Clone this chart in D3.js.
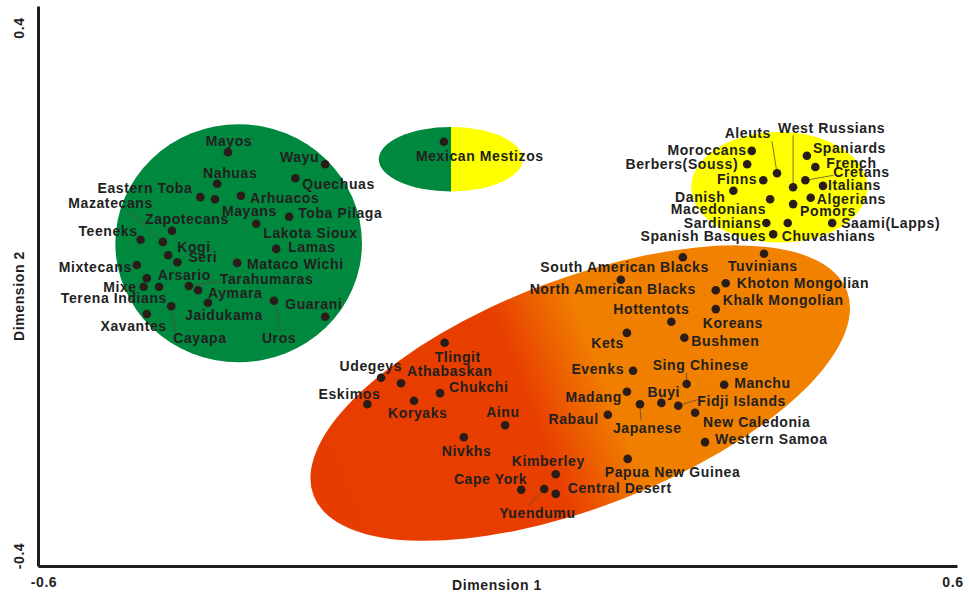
<!DOCTYPE html>
<html>
<head>
<meta charset="utf-8">
<script src="https://cdn.jsdelivr.net/npm/d3@7"></script>
<style>
  body { margin: 0; background: #fff; }
  svg { display: block; }
  .lbl { font-family: 'Liberation Sans', Arial, sans-serif; font-weight: bold; font-size: 14px; letter-spacing: 0.6px; fill: #231f1f; }
</style>
</head>
<body>
<svg width="969" height="595"></svg>
<script>
// populations: [name, dimension 1, dimension 2]
const amerindians = [
  ['Mayos', -0.352, 0.191], ['Wayu', -0.225, 0.174], ['Nahuas', -0.366, 0.146],
  ['Quechuas', -0.264, 0.154], ['Eastern Toba', -0.388, 0.127], ['Mayans', -0.369, 0.124],
  ['Arhuacos', -0.335, 0.129], ['Mazatecans', -0.437, 0.063], ['Zapotecans', -0.425, 0.079],
  ['Toba Pilaga', -0.272, 0.099], ['Lakota Sioux', -0.315, 0.089], ['Teeneks', -0.466, 0.066],
  ['Kogi', -0.430, 0.044], ['Seri', -0.418, 0.034], ['Lamas', -0.289, 0.053],
  ['Mixtecans', -0.471, 0.030], ['Mataco Wichi', -0.340, 0.033], ['Arsario', -0.458, 0.011],
  ['Tarahumaras', -0.403, 0.000], ['Mixe', -0.462, -0.001], ['Terena Indians', -0.442, -0.001],
  ['Aymara', -0.391, -0.006], ['Jaidukama', -0.378, -0.024], ['Cayapa', -0.426, -0.029],
  ['Uros', -0.292, -0.021], ['Guarani', -0.225, -0.044], ['Xavantes', -0.458, -0.040]
];
const mestizos = [['Mexican Mestizos', -0.070, 0.206]];
const europeans = [
  ['Aleuts', 0.365, 0.161], ['West Russians', 0.386, 0.141], ['Moroccans', 0.332, 0.193],
  ['Spaniards', 0.404, 0.186], ['Berbers(Souss)', 0.326, 0.174], ['French', 0.415, 0.170],
  ['Cretans', 0.402, 0.151], ['Finns', 0.347, 0.151], ['Italians', 0.425, 0.143],
  ['Danish', 0.308, 0.136], ['Algerians', 0.409, 0.126], ['Macedonians', 0.356, 0.124],
  ['Pomors', 0.386, 0.117], ['Sardinians', 0.351, 0.090], ['Saami(Lapps)', 0.437, 0.090],
  ['Chuvashians', 0.379, 0.090], ['Spanish Basques', 0.360, 0.074]
];
const others = [
  ['South American Blacks', 0.242, 0.041], ['Tuvinians', 0.348, 0.046],
  ['North American Blacks', 0.161, 0.009], ['Khoton Mongolian', 0.298, 0.004],
  ['Khalk Mongolian', 0.285, -0.006], ['Hottentots', 0.227, -0.051], ['Koreans', 0.285, -0.033],
  ['Kets', 0.169, -0.067], ['Bushmen', 0.244, -0.074], ['Evenks', 0.177, -0.121],
  ['Sing Chinese', 0.247, -0.140], ['Manchu', 0.296, -0.141], ['Madang', 0.169, -0.151],
  ['Buyi', 0.214, -0.167], ['Japanese', 0.186, -0.169], ['Fidji Islands', 0.236, -0.171],
  ['New Caledonia', 0.258, -0.181], ['Rabaul', 0.144, -0.184], ['Western Samoa', 0.271, -0.223],
  ['Papua New Guinea', 0.170, -0.247], ['Kimberley', 0.076, -0.269], ['Cape York', 0.031, -0.291],
  ['Central Desert', 0.076, -0.297], ['Yuendumu', 0.061, -0.290], ['Tlingit', -0.069, -0.081],
  ['Udegeys', -0.152, -0.131], ['Athabaskan', -0.126, -0.139], ['Chukchi', -0.075, -0.153],
  ['Eskimos', -0.170, -0.169], ['Koryaks', -0.109, -0.164], ['Ainu', 0.010, -0.199],
  ['Nivkhs', -0.044, -0.216]
];

// cluster outlines: [id, centre x, centre y, half width, half height, tilt in degrees]
const clusters = [
  ['others', 0.108, -0.153, 0.373, 0.163, -21],
  ['europeans', 0.368, 0.141, 0.115, 0.079, 0],
  ['amerindians', -0.338, 0.061, 0.161, 0.170, 0],
  ['mestizos', -0.061, 0.181, 0.094, 0.046, 0]
];

const xTicks = ['-0.6', '0.6'];
const yTicks = ['-0.4', '0.4'];

// label placement, pixels from the dot: [dx, dy, anchor]
const labelAt = {
  'Mayos': [1, -6, 'm'], 'Wayu': [-6, -2, 'e'], 'Nahuas': [13, -6, 'm'], 'Quechuas': [7, 11, 's'],
  'Eastern Toba': [-8, -4, 'e'], 'Mayans': [7, 17, 's'], 'Arhuacos': [9, 7, 's'],
  'Mazatecans': [-10, -34, 'e'], 'Zapotecans': [-27, -7, 's'], 'Toba Pilaga': [9, 1, 's'],
  'Lakota Sioux': [7, 14, 's'], 'Teeneks': [-3, -4, 'e'], 'Kogi': [9, -3, 's'], 'Seri': [11, 0, 's'],
  'Lamas': [12, 3, 's'], 'Mixtecans': [-5, 7, 'e'], 'Mataco Wichi': [10, 6, 's'], 'Arsario': [11, 2, 's'],
  'Tarahumaras': [31, -2, 's'], 'Mixe': [-7, 5, 'e'], 'Terena Indians': [8, 16, 'e'], 'Aymara': [10, 8, 's'],
  'Jaidukama': [-23, 17, 's'], 'Xavantes': [20, 17, 'e'], 'Cayapa': [2, 37, 's'], 'Uros': [-12, 42, 's'],
  'Guarani': [-40, -8, 's'],
  'Mexican Mestizos': [-28, 19, 's'],
  'Aleuts': [-6, -35, 'e'], 'West Russians': [-15, -54, 's'], 'Moroccans': [-5, 4, 'e'],
  'Spaniards': [6, -3, 's'], 'Berbers(Souss)': [-9, 5, 'e'], 'French': [11, 1, 's'], 'Cretans': [28, -3, 's'],
  'Finns': [-6, 4, 'e'], 'Italians': [5, 4, 's'], 'Danish': [-8, 11, 'e'], 'Algerians': [6, 6, 's'],
  'Macedonians': [-4, 15, 'e'], 'Pomors': [7, 12, 's'], 'Sardinians': [-5, 5, 'e'],
  'Saami(Lapps)': [9, 5, 's'], 'Chuvashians': [-6, 18, 's'], 'Spanish Basques': [-7, 7, 'e'],
  'South American Blacks': [26, 15, 'e'], 'Tuvinians': [-36, 17, 's'], 'North American Blacks': [75, 14, 'e'],
  'Khoton Mongolian': [11, 5, 's'], 'Khalk Mongolian': [7, 15, 's'], 'Hottentots': [18, -8, 'e'],
  'Koreans': [-13, 19, 's'], 'Kets': [-3, 15, 'e'], 'Bushmen': [7, 8, 's'], 'Evenks': [-9, 3, 'e'],
  'Sing Chinese': [-34, -14, 's'], 'Manchu': [10, 3, 's'], 'Madang': [-5, 10, 'e'], 'Buyi': [-14, -6, 's'],
  'Fidji Islands': [19, 0, 's'], 'Japanese': [-27, 29, 's'], 'New Caledonia': [8, 14, 's'], 'Rabaul': [-9, 9, 'e'],
  'Western Samoa': [10, 2, 's'], 'Papua New Guinea': [-23, 18, 's'], 'Kimberley': [-44, -8, 's'],
  'Cape York': [6, -6, 'e'], 'Central Desert': [12, -1, 's'], 'Yuendumu': [-45, 29, 's'],
  'Tlingit': [-10, 19, 's'], 'Udegeys': [21, -7, 'e'], 'Athabaskan': [6, -7, 's'], 'Chukchi': [9, -1, 's'],
  'Eskimos': [13, -5, 'e'], 'Koryaks': [-26, 17, 's'], 'Ainu': [-19, -8, 's'], 'Nivkhs': [-22, 19, 's']
};
// thin leader lines, start point relative to the dot
const leaders = {
  'Mazatecans': [-36, -32], 'Tarahumaras': [31, -5], 'Cayapa': [5, 27], 'Uros': [8, 31],
  'Aleuts': [-5, -32], 'West Russians': [0, -52], 'Cretans': [28, -5], 'Sing Chinese': [0, -11],
  'Fidji Islands': [19, -6], 'Japanese': [1, 16], 'Yuendumu': [-15, 16]
};

const svg = d3.select('svg');
const x = d3.scaleLinear().domain([-0.6, 0.6]).range([38, 957]);
const y = d3.scaleLinear().domain([-0.4, 0.4]).range([566, 6]);

const defs = svg.append('defs');
let g1 = defs.append('linearGradient').attr('id', 'warm');
[[0, '#e63c00'], [0.41, '#e83f00'], [0.55, '#f07f00'], [1, '#f28200']].forEach(s => {
  g1.append('stop').attr('offset', s[0]).attr('stop-color', s[1]);
});
let g2 = defs.append('linearGradient').attr('id', 'split');
[[0, '#00883f'], [0.5, '#00883f'], [0.5, '#ffff00'], [1, '#ffff00']].forEach(s => {
  g2.append('stop').attr('offset', s[0]).attr('stop-color', s[1]);
});
const clusterFill = {others: 'url(#warm)', europeans: '#ffff00', amerindians: '#00883f', mestizos: 'url(#split)'};

//画出各个群体的椭圆
svg.append('g').selectAll('ellipse').data(clusters).join('ellipse')
  .attr('cx', 0).attr('cy', 0)
  .attr('rx', d => x(d[1] + d[3]) - x(d[1]))
  .attr('ry', d => y(d[2] - d[4]) - y(d[2]))
  .attr('transform', d => `translate(${x(d[1])},${y(d[2])}) rotate(${d[5]})`)
  .attr('fill', d => clusterFill[d[0]]);

// axes: plain lines, no ticks
svg.append('g').attr('transform', 'translate(0,566)')
  .call(d3.axisBottom(x).tickValues([]).tickSizeOuter(0))
  .select('.domain').attr('stroke', '#1e1e1e').attr('stroke-width', 3);
svg.append('g').attr('transform', 'translate(38,0)')
  .call(d3.axisLeft(y).tickValues([]).tickSizeOuter(0))
  .select('.domain').attr('stroke', '#1e1e1e').attr('stroke-width', 3);

// end labels, written with a plain hyphen like the original
svg.append('g').selectAll('text').data(xTicks).join('text')
  .attr('class', 'lbl').attr('text-anchor', 'middle')
  .attr('x', d => x(+d) + (+d < 0 ? 6 : -4)).attr('y', 587)
  .text(d => d);
svg.append('g').selectAll('text').data(yTicks).join('text')
  .attr('class', 'lbl').attr('text-anchor', 'middle')
  .attr('transform', d => `translate(24,${y(+d) + (+d > 0 ? 22 : -10)}) rotate(-90)`)
  .text(d => d);

svg.append('text').attr('class', 'lbl').attr('text-anchor', 'middle')
  .attr('x', 497).attr('y', 590).text('Dimension 1');
svg.append('text').attr('class', 'lbl').attr('text-anchor', 'middle')
  .attr('transform', 'translate(24,296) rotate(-90)').text('Dimension 2');

const pops = amerindians.concat(mestizos, europeans, others);

svg.append('g').selectAll('line').data(pops.filter(d => leaders[d[0]])).join('line')
  .attr('x1', d => x(d[1]) + leaders[d[0]][0]).attr('y1', d => y(d[2]) + leaders[d[0]][1])
  .attr('x2', d => x(d[1])).attr('y2', d => y(d[2]))
  .attr('stroke', '#5a4a3a').attr('stroke-width', 0.8);

svg.append('g').selectAll('circle').data(pops).join('circle')
  .attr('cx', d => x(d[1])).attr('cy', d => y(d[2])).attr('r', 4.3)
  .attr('fill', '#2a1c18');

const anchors = {s: 'start', e: 'end', m: 'middle'};
svg.append('g').selectAll('text').data(pops).join('text')
  .attr('class', 'lbl')
  .attr('x', d => x(d[1]) + labelAt[d[0]][0])
  .attr('y', d => y(d[2]) + labelAt[d[0]][1])
  .attr('text-anchor', d => anchors[labelAt[d[0]][2]])
  .text(d => d[0]);
</script>
</body>
</html>
